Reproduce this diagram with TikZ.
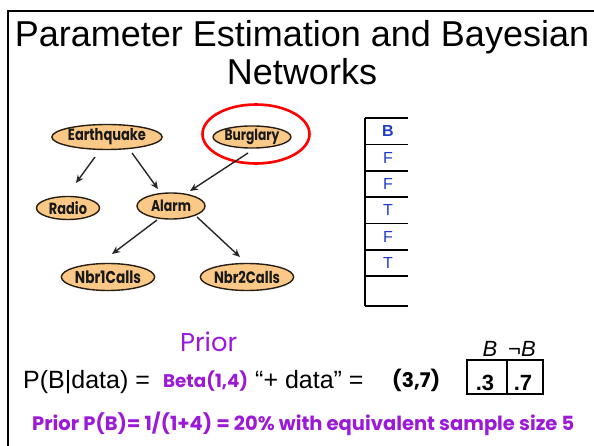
\documentclass[tikz,border=0pt]{standalone}
\usepackage{fontspec}
\usepackage{graphicx}
\setmainfont{Liberation Sans}
\newfontfamily\comic{Poppins}
\usetikzlibrary{shapes.geometric,arrows.meta,calc}
\definecolor{purp}{RGB}{155,25,215}
\definecolor{tblue}{RGB}{30,60,200}
\definecolor{nodefill}{RGB}{250,200,135}
\definecolor{nodeedge}{RGB}{40,30,20}
\newcommand\fitto[2]{\resizebox{#1}{!}{#2}}
\newcommand\lab[2]{\scalebox{1}[1.25]{\resizebox{#1}{!}{\comic\bfseries #2}}}
\begin{document}
\begin{tikzpicture}[x=1pt,y=-1pt,
  bn/.style={ellipse,draw=nodeedge,line width=1.4pt,fill=nodefill,inner sep=0pt,text=black!90},
  arr/.style={-{Stealth[length=8pt,width=7pt]},line width=1.4pt,draw=black!85},
  tcell/.style={inner sep=0pt,text=tblue,font=\fontsize{16}{19}\selectfont},
  txt/.style={inner sep=0pt,anchor=base west}]
\useasboundingbox (0,0) rectangle (594,446);
% frame
\draw[line width=1.5pt] (8,446) -- (8,11) -- (594,11);
% title
\node[anchor=base,inner sep=0pt,font=\fontsize{36}{40}\selectfont] (t1) at (302,47) {Parameter Estimation and Bayesian};
\node[anchor=base,inner sep=0pt,font=\fontsize{36}{40}\selectfont] (t2) at (302,85) {Networks};
% network
\node[bn,minimum width=93pt,minimum height=25pt] (eq) at (107,137) {\lab{78pt}{Earthquake}};
\node[bn,minimum width=75pt,minimum height=22pt] (bu) at (252,137) {\lab{55pt}{Burglary}};
\node[bn,minimum width=63pt,minimum height=23pt] (ra) at (68,208) {\lab{38pt}{Radio}};
\node[bn,minimum width=68pt,minimum height=26pt] (al) at (171,206) {\lab{40pt}{Alarm}};
\node[bn,minimum width=84pt,minimum height=27pt] (n1) at (108,277) {\lab{66pt}{Nbr1Calls}};
\node[bn,minimum width=83pt,minimum height=27pt] (n2) at (247,277) {\lab{66pt}{Nbr2Calls}};
\node[ellipse,draw=red,line width=2.6pt,minimum width=107pt,minimum height=59pt,inner sep=0pt] (ring) at (256,134) {};
\draw[arr] ($(eq.center)+(-12,20)$) -- ($(ra.center)+(8,-25)$);
\draw[arr] ($(eq.center)+(25,16)$) -- ($(al.center)+(-13,-17)$);
\draw[arr] ($(bu.center)+(-4,16)$) -- ($(al.center)+(19,-15)$);
\draw[arr] ($(al.center)+(-14,14)$) -- ($(n1.center)+(4,-23)$);
\draw[arr] ($(al.center)+(26,11)$) -- ($(n2.center)+(-7,-20)$);
% data table
\draw[line width=1.3pt] (365,118) -- (365,306);
\foreach \yy in {118,144.5,171,197,223.5,250,276,306}
  \draw[line width=1.3pt] (365,\yy) -- (408,\yy);
\node[tcell] (d0) at (388,131) {\bfseries B};
\node[tcell] (d1) at (388,157.5) {F};
\node[tcell] (d2) at (388,184) {F};
\node[tcell] (d3) at (388,210) {T};
\node[tcell] (d4) at (388,236.5) {F};
\node[tcell] (d5) at (388,263) {T};
% formula
\node[txt,text=purp] (prior) at (180,351) {\fitto{57pt}{\comic Prior}};
\node[txt,font=\fontsize{25}{28}\selectfont] (pb) at (23,388) {P(B|data) =};
\node[txt,text=purp] (beta) at (163,387) {\fitto{85pt}{\comic\bfseries Beta(1,4)}};
\node[txt,font=\fontsize{25}{28}\selectfont] (plus) at (255,388) {“+ data” =};
\node[txt] (res) at (392,387) {\fitto{48pt}{\comic\bfseries (3,7)}};
% CPT
\draw[line width=1.8pt] (467,360) rectangle (543,394);
\draw[line width=1.8pt] (507,360) -- (507,394);
\node[anchor=base,inner sep=0pt,font=\fontsize{22}{26}\selectfont\itshape] (hb) at (490,356) {B};
\node[anchor=base,inner sep=0pt,font=\fontsize{22}{26}\selectfont\itshape] (hnb) at (522,356) {¬B};
\node[anchor=base,inner sep=0pt,font=\fontsize{22}{26}\selectfont\bfseries] (p3) at (485,390) {.3};
\node[anchor=base,inner sep=0pt,font=\fontsize{22}{26}\selectfont\bfseries] (p7) at (523,390) {.7};
% bottom line
\node[txt,text=purp] (foot) at (32,430) {\fitto{542pt}{\comic\bfseries Prior P(B)= 1/(1+4) = 20\% with equivalent sample size 5}};
\end{tikzpicture}
\end{document}
